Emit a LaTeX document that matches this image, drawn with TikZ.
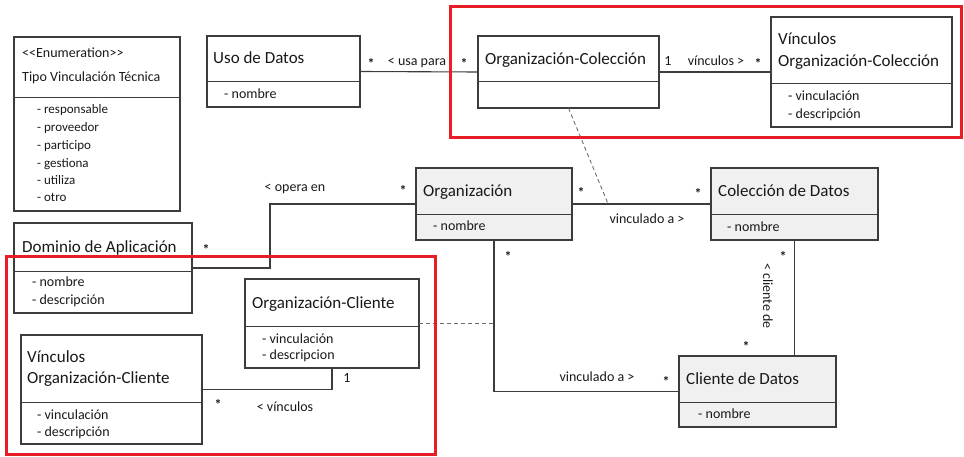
\documentclass[tikz,border=0pt]{standalone}
\usepackage{fontspec}
\setmainfont{Carlito}
\usetikzlibrary{fit,calc}
\definecolor{linec}{RGB}{60,60,60}
\definecolor{grayfill}{RGB}{240,240,240}
\definecolor{redc}{RGB}{232,30,38}
\definecolor{txtc}{RGB}{25,25,25}
\begin{document}
\begin{tikzpicture}[x=1pt,y=-1pt,
  cls/.style={draw=linec, line width=1.3pt, inner sep=0pt, outer sep=0pt},
  conn/.style={draw=linec, line width=1.1pt},
  dashc/.style={draw=linec!75, line width=0.9pt, dash pattern=on 4pt off 3pt},
  ttl/.style={anchor=base west, inner sep=0pt, text=txtc, font=\fontsize{17}{19}\selectfont},
  attr/.style={anchor=base west, inner sep=0pt, text=txtc, font=\fontsize{14}{16}\selectfont},
  lbl/.style={anchor=base, inner sep=0pt, text=txtc, font=\fontsize{14}{16}\selectfont},
  mult/.style={inner sep=0pt, text=txtc, font=\fontsize{14}{16}\selectfont\bfseries},
  one/.style={inner sep=0pt, text=txtc, font=\fontsize{14}{16}\selectfont},
  hl/.style={draw=redc, line width=3pt}]
\useasboundingbox (0,0) rectangle (964,457);

% ---- class boxes (positions are baselines of the text) ----
\node[cls, fit={(14,37) (180,211)}] (enum) {};
\draw[linec, line width=1pt] (14,98) -- (180,98);
\node[anchor=base west, inner sep=0pt, text=txtc, font=\fontsize{14}{16}\selectfont] (enumst) at (22,58) {<{}<Enumeration>{}>};
\node[anchor=base west, inner sep=0pt, text=txtc, font=\fontsize{14}{16}\selectfont] (enumt) at (22,82) {Tipo Vinculación Técnica};
\node[attr, font=\fontsize{13}{15}\selectfont] (e1) at (37,114) {- responsable};
\node[attr, font=\fontsize{13}{15}\selectfont] (e2) at (37,132) {- proveedor};
\node[attr, font=\fontsize{13}{15}\selectfont] (e3) at (37,150) {- participo};
\node[attr, font=\fontsize{13}{15}\selectfont] (e4) at (37,168) {- gestiona};
\node[attr, font=\fontsize{13}{15}\selectfont] (e5) at (37,185) {- utiliza};
\node[attr, font=\fontsize{13}{15}\selectfont] (e6) at (37,202) {- otro};

\node[cls, fill=white, fit={(207,36) (360,107)}] (uso) {};
\draw[linec, line width=1pt] (207,82) -- (360,82);
\node[ttl] (usot) at (213,64) {Uso de Datos};
\node[attr] (usoa) at (224,99) {- nombre};

\node[cls, fill=white, fit={(478,36) (659,108)}] (orgcol) {};
\draw[linec, line width=1pt] (478,82) -- (659,82);
\node[ttl] (orgcolt) at (485,65) {Organización-Colección};

\node[cls, fill=white, fit={(771,17) (952,127)}] (voc) {};
\draw[linec, line width=1pt] (771,84) -- (952,84);
\node[ttl] (voct1) at (778,45) {Vínculos};
\node[ttl] (voct2) at (778,67) {Organización-Colección};
\node[attr] (voca1) at (788,101) {- vinculación};
\node[attr] (voca2) at (788,119) {- descripción};

\node[cls, fill=grayfill, fit={(416,168) (572,240)}] (org) {};
\draw[linec, line width=1pt] (416,215) -- (572,215);
\node[ttl] (orgt) at (423,197) {Organización};
\node[attr] (orga) at (433,231) {- nombre};

\node[cls, fill=grayfill, fit={(711,168) (878,240)}] (col) {};
\draw[linec, line width=1pt] (711,215) -- (878,215);
\node[ttl] (colt) at (718,197) {Colección de Datos};
\node[attr] (cola) at (727,232) {- nombre};

\node[cls, fill=grayfill, fit={(679,356) (836,427)}] (cli) {};
\draw[linec, line width=1pt] (679,402) -- (836,402);
\node[ttl] (clit) at (686,384) {Cliente de Datos};
\node[attr] (clia) at (698,418) {- nombre};

\node[cls, fill=white, fit={(14,223) (192,313)}] (dom) {};
\draw[linec, line width=1pt] (14,271) -- (192,271);
\node[ttl] (domt) at (22,252) {Dominio de Aplicación};
\node[attr] (doma1) at (32,287) {- nombre};
\node[attr] (doma2) at (32,304) {- descripción};

\node[cls, fill=white, fit={(245,279) (419,368)}] (ocl) {};
\draw[linec, line width=1pt] (245,326) -- (419,326);
\node[ttl] (oclt) at (252,308) {Organización-Cliente};
\node[attr] (ocla1) at (262,343) {- vinculación};
\node[attr] (ocla2) at (262,359) {- descripcion};

\node[cls, fill=white, fit={(21,335) (202,444)}] (vocl) {};
\draw[linec, line width=1pt] (21,402) -- (202,402);
\node[ttl] (voclt1) at (27,362) {Vínculos};
\node[ttl] (voclt2) at (27,383) {Organización-Cliente};
\node[attr] (vocla1) at (37,419) {- vinculación};
\node[attr] (vocla2) at (37,436) {- descripción};

% ---- associations ----
\draw[conn] (uso.east) -- (orgcol.west);
\node[mult] (m1) at (371,63) {*};
\node[lbl] (l1) at (417,66) {< usa para};
\node[mult] (m2) at (464,63) {*};

\draw[conn] (orgcol.east) -- (voc.west);
\node[one] (m3) at (668,61) {1};
\node[lbl] (l2) at (716,66) {vínculos >};
\node[mult] (m4) at (758,63) {*};

\coordinate (domk) at (270,268);
\draw[conn] (dom.east) -- (domk) |- (org.west);
\node[mult] (m5) at (206,249) {*};
\node[lbl] (l3) at (295,192) {< opera en};
\node[mult] (m6) at (403,190) {*};

\draw[conn] (org.east) -- (col.west);
\node[mult] (m7) at (581,192) {*};
\node[lbl] (l4) at (647,224) {vinculado a >};
\node[mult] (m8) at (698,193) {*};

\draw[conn] (org.south) |- (cli.west);
\node[mult] (m9) at (508,256) {*};
\node[lbl] (l5) at (597,381) {vinculado a >};
\node[mult] (m10) at (666,381) {*};

\draw[conn] (col.south) -- (col.south |- cli.north);
\node[mult] (m11) at (783,256) {*};
\node[inner sep=0pt, text=txtc, font=\fontsize{14}{16}\selectfont, rotate=-90] (l6) at (768,296) {< cliente de};
\node[mult] (m12) at (746,346) {*};

\draw[conn] (vocl.east) -| (ocl.south);
\node[one] (m13) at (347,378) {1};
\node[mult] (m14) at (218,404) {*};
\node[lbl] (l7) at (285,411) {< vínculos};

% association classes
\coordinate (ocmid) at ($(org.east)!0.26!(col.west)$);
\draw[dashc] (orgcol.south) -- (ocmid);
\draw[dashc] (ocl.east) -- (ocl.east -| org.south);

% ---- highlight frames ----
\draw[hl] (450,7) rectangle (961,138);
\draw[hl] (6,257) rectangle (435,454);
\end{tikzpicture}
\end{document}
